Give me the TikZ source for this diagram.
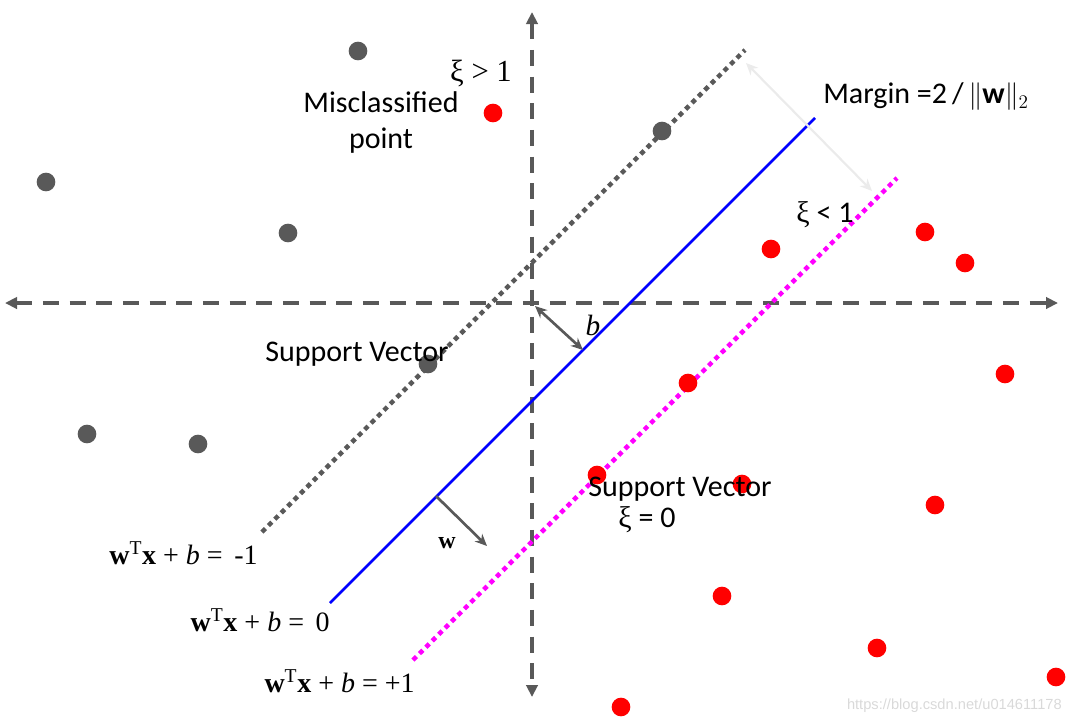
\documentclass[tikz,border=0pt]{standalone}
\usepackage{fontspec}
\setmainfont{Carlito}
\newfontfamily\tms{Liberation Serif}
\newfontfamily\wmfont{Liberation Sans}
\usetikzlibrary{arrows.meta}
\definecolor{ptgray}{HTML}{595959}
\definecolor{ptred}{HTML}{FF0000}
\definecolor{posclr}{HTML}{FF00FF}
\definecolor{hypclr}{HTML}{0000FF}
\definecolor{marginclr}{HTML}{EBEBEB}
\tikzset{
	axis/.style={ptgray, line width=3pt, dash pattern=on 12pt off 8pt,
		{Triangle[length=9pt,width=8.5pt]}-{Triangle[length=9pt,width=8.5pt]}},
	grayneg/.style={ptgray, line width=3.4pt, dash pattern=on 3.6pt off 3.2pt},
	magpos/.style={posclr, line width=3.4pt, dash pattern=on 3.6pt off 3.2pt},
	hyper/.style={hypclr, line width=2pt},
	vecarrow/.style={ptgray, line width=2pt, -{Stealth[length=9pt,width=8pt]}},
	graypt/.style={circle, fill=ptgray, minimum size=14pt, inner sep=0pt},
	redpt/.style={circle, fill=ptred, minimum size=14pt, inner sep=0pt},
	lbl/.style={inner sep=0pt, font=\fontsize{22.5}{27}\selectfont},
	eqn/.style={inner sep=0pt, font=\tms\fontsize{21}{24}\selectfont}
}
\begin{document}
\begin{tikzpicture}[x=0.75pt,y=-0.75pt]
		\useasboundingbox (0,0) rectangle (1072,726);
		% axes
		\coordinate (xl) at (5,303);
		\coordinate (xr) at (1058,303);
		\coordinate (yt) at (532,12);
		\coordinate (yb) at (532,697);
		\draw[axis] (xl) -- (xr);
		\draw[axis] (yt) -- (yb);
		% hyperplanes
		\coordinate (neg1) at (262,532);
		\coordinate (neg2) at (745,50);
		\coordinate (mid1) at (330,603);
		\coordinate (mid2) at (815,118);
		\coordinate (pos1) at (413,660);
		\coordinate (pos2) at (897,178);
		\draw[grayneg] (neg1) -- (neg2);
		\draw[hyper] (mid1) -- (mid2);
		\draw[magpos] (pos1) -- (pos2);
		% margin arrow
		\coordinate (mtop) at (746,63);
		\coordinate (mbot) at (872,191);
		\draw[marginclr, line width=1.6pt, {Stealth[length=9pt,width=8pt]}-{Stealth[length=9pt,width=8pt]}] (mtop) -- (mbot);
		% offset b and normal w
		\coordinate (orig) at (535,306);
		\coordinate (bfoot) at (583,350);
		\draw[ptgray, line width=2pt, {Stealth[length=9pt,width=8pt]}-{Stealth[length=9pt,width=8pt]}] (orig) -- (bfoot);
		\coordinate (wfoot) at (436,496);
		\coordinate (wtip) at (487,546);
		\draw[vecarrow] (wfoot) -- (wtip);
		% gray points
		\foreach \x/\y [count=\i] in {358/51, 46/182, 288/233, 662/131, 428/364, 87/434, 198/444}
		{
			\node[graypt] (g\i) at (\x,\y) {};
		}
		% red points
		\foreach \x/\y [count=\i] in {493/113, 771/249, 925/232, 965/263, 688/383, 1005/374, 597/475, 742/484, 935/505, 722/596, 877/648, 1056/677, 621/707}
		{
			\node[redpt] (r\i) at (\x,\y) {};
		}
		% labels
		\node[eqn, font=\tms\fontsize{23}{26}\selectfont] (xigt) at (481,73) {ξ > 1};
		\node[lbl, align=center] (miscl) at (381,122) {Misclassified\\point};
		\node[lbl, anchor=west] (margin) at (823,97) {Margin =2\,/\,$\|\mathbf{w}\|_2$};
		\node[lbl] (xilt) at (825,215) {{\tms ξ} < 1};
		\node[eqn, font=\tms\itshape\fontsize{22}{24}\selectfont] (blbl) at (593,325) {b};
		\node[lbl] (sv1) at (357,354) {Support Vector};
		\node[lbl] (sv2) at (680,489) {Support Vector};
		\node[lbl] (xieq) at (647,520) {{\tms ξ} = 0};
		\node[eqn, font=\tms\bfseries\fontsize{18}{20}\selectfont] (wlbl) at (447,543) {w};
		\node[eqn, anchor=east] (eqneg) at (258,553) {\textbf{w}\textsuperscript{T}\textbf{x} + \textit{b} = \,-1};
		\node[eqn, anchor=east] (eqmid) at (330,620) {\textbf{w}\textsuperscript{T}\textbf{x} + \textit{b} = \,0};
		\node[eqn, anchor=east] (eqpos) at (415,681) {\textbf{w}\textsuperscript{T}\textbf{x} + \textit{b} = +1};
		\node[inner sep=0pt, anchor=east, text=black!15, font=\wmfont\fontsize{11}{13}\selectfont] (wm) at (1062,706) {https://blog.csdn.net/u014611178};
	\end{tikzpicture}
\end{document}
